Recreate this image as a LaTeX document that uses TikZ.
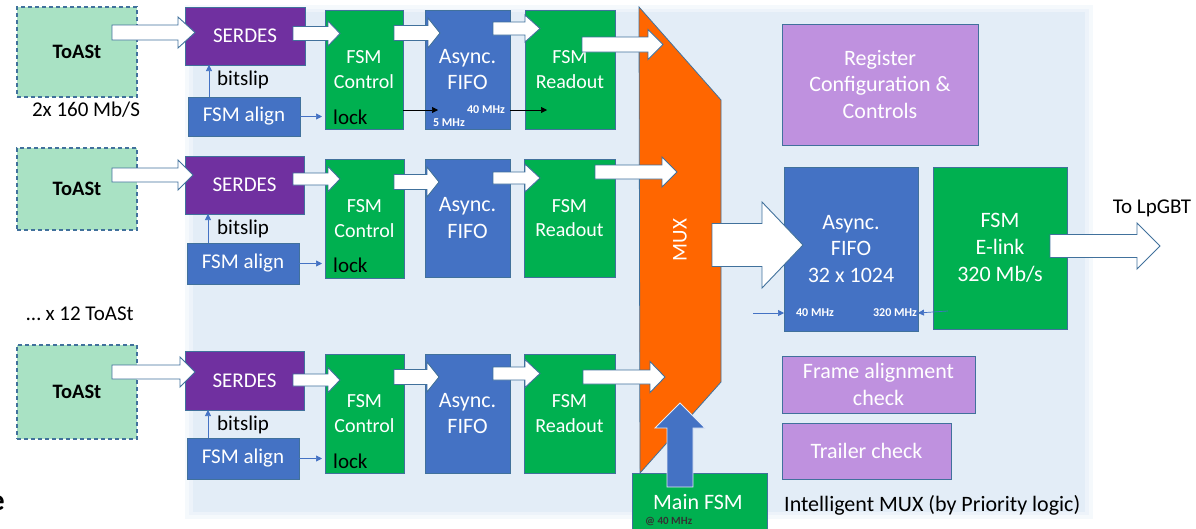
\documentclass[tikz,border=0pt]{standalone}
\usepackage{fontspec}
\setmainfont{Carlito}
\usetikzlibrary{arrows.meta,calc}
\definecolor{bgc}{HTML}{E3EDF7}
\definecolor{bord}{HTML}{41719C}
\definecolor{tgreen}{HTML}{A9E2C4}
\definecolor{serd}{HTML}{7030A0}
\definecolor{oblue}{HTML}{4472C4}
\definecolor{ogreen}{HTML}{00B050}
\definecolor{oorange}{HTML}{FF6600}
\definecolor{lpurp}{HTML}{BF91DF}
\newcommand\fs[1]{\pgfmathsetmacro\fsbase{#1*1.22}\fontsize{#1}{\fsbase}\selectfont}
\newcommand\bx[7]{\node[#6, minimum width={#4-#2}, minimum height={#5-#3}] (#1) at ({(#2+#4)/2},{(#3+#5)/2}) {#7};}
% block arrow: x0, tip x, yc, body half, head half, head length
\newcommand\barw[6]{\draw[blk] (#1,{#3-#4}) -- ({#2-#6},{#3-#4}) -- ({#2-#6},{#3-#5}) -- (#2,#3) -- ({#2-#6},{#3+#5}) -- ({#2-#6},{#3+#4}) -- (#1,{#3+#4}) -- cycle;}
\tikzset{
  box/.style={draw=bord, line width=0.8pt, inner sep=0pt, outer sep=0pt, align=center, text=white, font=\fs{21}},
  toast/.style={box, fill=tgreen, dash pattern=on 4pt off 3pt, line width=1.2pt, text=black, font=\fs{20.5}\bfseries},
  serdes/.style={box, fill=serd},
  bluebox/.style={box, fill=oblue},
  greenbox/.style={box, fill=ogreen},
  purpbox/.style={box, fill=lpurp, font=\fs{22}},
  blk/.style={draw=bord, fill=white, line width=0.9pt, line join=miter},
  sig/.style={draw=oblue, line width=0.7pt, -{Triangle[length=6pt,width=6pt]}},
  clk/.style={draw=black, line width=0.6pt, -{Triangle[length=6pt,width=6pt]}},
  lbl/.style={inner sep=0pt, font=\fs{21}, text=black},
  small/.style={inner sep=0pt, font=\fs{12}\bfseries, text=white},
}
\begin{document}
\begin{tikzpicture}[x=1pt,y=-1pt]
\useasboundingbox (0,0) rectangle (1196,528);
% background
\fill[bgc!35] (185,5) rectangle (1093,519);
\fill[bgc!65] (189,9) rectangle (1089,515);
\fill[bgc] (193,12) rectangle (1085,512);
% cut-off letter
\node[anchor=base east, inner sep=0pt, font=\fs{30}\bfseries] (ee) at (5,510) {e};
% MUX
\draw[fill=oorange, draw=bord, line width=0.8pt] (639,7) -- (721,100) -- (721,382) -- (640,473) -- cycle;
\node[rotate=90, text=white, font=\fs{21}, inner sep=0pt] (muxl) at (680,240) {MUX};
% row 1
\bx{ts1}{17}{7}{137}{97}{toast}{ToASt}
\bx{sd1}{185}{7}{305}{65}{serdes}{SERDES}
\bx{al1}{188}{97}{300}{136}{bluebox}{FSM align}
\bx{ct1}{325}{10}{403}{129}{greenbox, font=\fs{20}}{FSM\\Control}
\bx{ff1}{425}{10}{510}{129}{bluebox, font=\fs{22}}{Async.\\FIFO}
\bx{ro1}{525}{10}{615}{129}{greenbox, font=\fs{20}}{FSM\\Readout}
% row 2
\bx{ts2}{17}{148}{137}{230}{toast}{ToASt}
\bx{sd2}{185}{156}{304}{214}{serdes}{SERDES}
\bx{al2}{187}{243}{299}{284}{bluebox}{FSM align}
\bx{ct2}{325}{159}{404}{278}{greenbox, font=\fs{20}}{FSM\\Control}
\bx{ff2}{425}{159}{510}{277}{bluebox, font=\fs{22}}{Async.\\FIFO}
\bx{ro2}{524}{159}{615}{277}{greenbox, font=\fs{20}}{FSM\\Readout}
% row 3
\bx{ts3}{17}{345}{137}{439}{toast}{ToASt}
\bx{sd3}{185}{351}{304}{410}{serdes}{SERDES}
\bx{al3}{187}{438}{299}{479}{bluebox}{FSM align}
\bx{ct3}{325}{354}{404}{473}{greenbox, font=\fs{20}}{FSM\\Control}
\bx{ff3}{425}{354}{510}{473}{bluebox, font=\fs{22}}{Async.\\FIFO}
\bx{ro3}{524}{354}{615}{473}{greenbox, font=\fs{20}}{FSM\\Readout}
% right side
\bx{reg}{782}{24}{978}{145}{purpbox}{Register\\Configuration \&\\Controls}
\bx{bf}{784}{167}{918}{331}{bluebox, font=\fs{22}}{Async.\\FIFO\\32 x 1024}
\bx{el}{933}{167}{1067}{329}{greenbox, font=\fs{22}}{FSM\\E-link\\320 Mb/s}
\bx{fa}{782}{356}{975}{413}{purpbox}{Frame alignment\\check}
\bx{tr}{782}{423}{951}{479}{purpbox}{Trailer check}
\bx{mf}{632}{473}{767}{545}{greenbox}{}
\node[inner sep=0pt, text=white, font=\fs{22}] (mfl) at (698,502) {Main FSM};
\node[anchor=west, inner sep=0pt, font=\fs{11}\bfseries, text=black!80] (mfc) at (645,522) {@ 40 MHz};
% labels
\node[lbl] (rate) at (86,110) {2x 160 Mb/S};
\node[lbl] (x12) at (80,314) {… x 12 ToASt};
\node[lbl, anchor=west] (bs1) at (217,80) {bitslip};
\node[lbl, anchor=west] (bs2) at (217,229) {bitslip};
\node[lbl, anchor=west] (bs3) at (217,425) {bitslip};
\node[lbl, anchor=west] (lk1) at (333,117) {lock};
\node[lbl, anchor=west] (lk2) at (333,265) {lock};
\node[lbl, anchor=west] (lk3) at (333,461) {lock};
\node[lbl] (lp) at (1152,208) {To LpGBT};
\node[lbl, anchor=west, font=\fs{22}] (im) at (784,505) {Intelligent MUX (by Priority logic)};
\node[small] (c5) at (449,123) {5 MHz};
\node[small] (c40) at (486,110) {40 MHz};
\node[small] (b40) at (815,313) {40 MHz};
\node[small] (b320) at (895,313) {320 MHz};
% thin arrows
\foreach \r in {1,2,3}{
  \draw[sig] ([xshift=21pt]al\r.north west) -- ([xshift=21pt]al\r.north west |- sd\r.south);
  \draw[sig] (al\r.east) -- ([xshift=-3pt]al\r.east -| ct\r.west);
}
\draw[clk] ([yshift=19pt]ct1.south east) -- ++(35,0);
\draw[clk] ([yshift=19pt]ff1.south east) -- ++(37,0);
\draw[sig] ([shift={(-31pt,18pt)}]bf.south west) coordinate (b40s) -- ([yshift=18pt]bf.south west);
\draw[sig] ([shift={(15pt,18pt)}]el.south west) coordinate (b320s) -- ([yshift=18pt]bf.south east);
% block arrows row 1
\barw{112}{195}{32.5}{7.5}{15.5}{17}
\barw{293}{340}{33.5}{7}{12.5}{12}
\barw{394}{440}{33}{7.5}{15}{12}
\barw{493}{540}{28.5}{6.5}{13.5}{15}
\barw{582}{663}{44.5}{7.5}{15}{15}
% row 2
\barw{112}{193}{175}{7}{15}{15}
\barw{293}{340}{179}{6}{12.5}{12}
\barw{394}{439}{182}{7.5}{15}{12}
\barw{493}{540}{178}{6}{14}{15}
\barw{595}{677}{172}{7}{15}{15}
% row 3
\barw{112}{195}{372}{7}{15}{15}
\barw{293}{340}{380}{6}{12.5}{12}
\barw{394}{439}{377}{7.5}{15}{12}
\barw{493}{540}{373.5}{6.5}{14}{15}
\barw{583}{665}{377}{7}{15.5}{15}
% big arrows
\barw{712}{803}{245}{21.5}{43}{41}
\barw{1050}{1160}{246}{11.5}{23}{23}
% main FSM up arrow
\draw[fill=oblue, draw=white!85!oblue, line width=0.8pt] (667,487) -- (667,428) -- (655,428) -- (680,403) -- (705,428) -- (693,428) -- (693,487) -- cycle;
\end{tikzpicture}
\end{document}
